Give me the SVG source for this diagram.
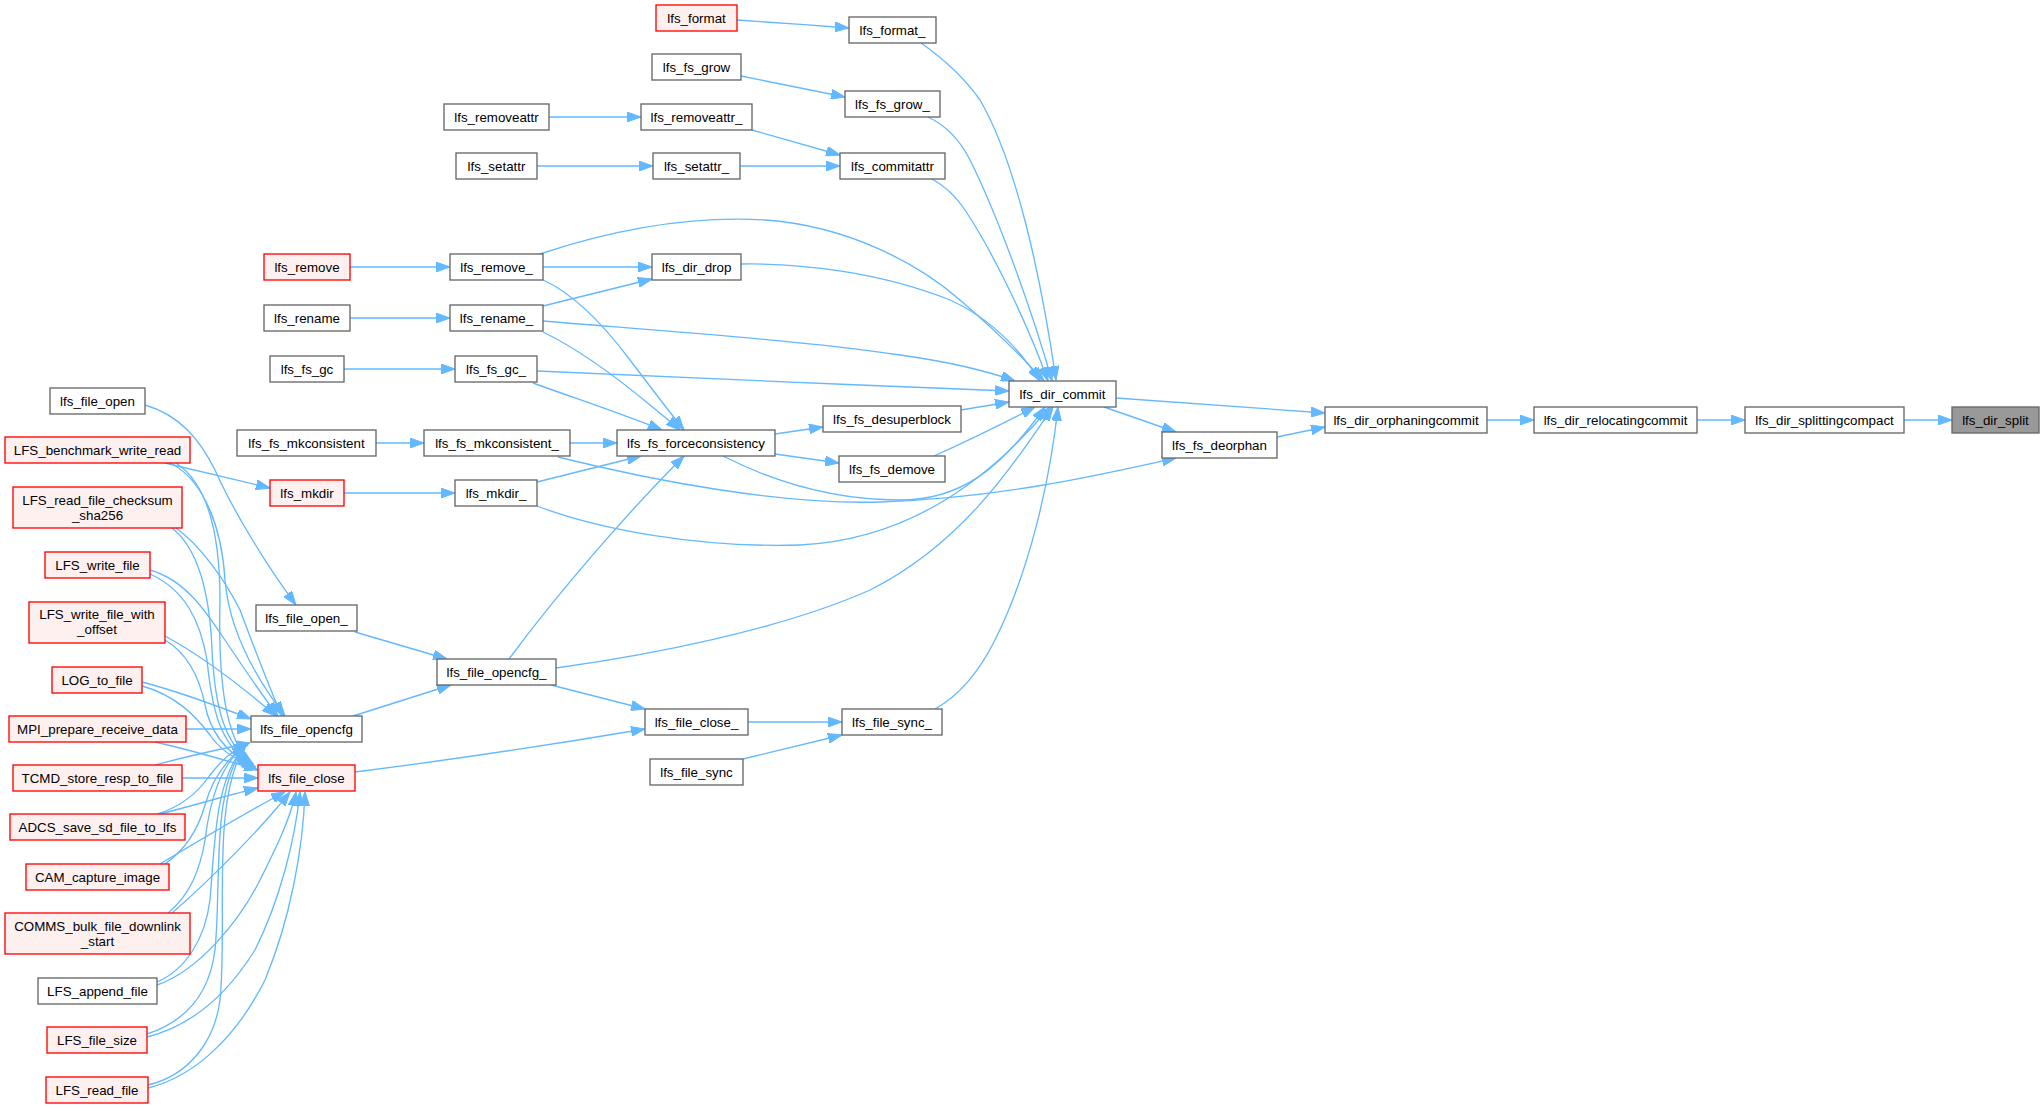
<svg xmlns="http://www.w3.org/2000/svg" width="2044" height="1108" viewBox="0 0 2044 1108">
<defs>
<marker id="ah" markerUnits="userSpaceOnUse" markerWidth="14" markerHeight="10" refX="14" refY="5" orient="auto">
<path d="M0,0 L14,5 L0,10 z" fill="#63B8FF" stroke="#63B8FF" stroke-width="1"/>
</marker>
</defs>
<style>
.n rect{fill:#ffffff;stroke:#666666;stroke-width:1.33}
.r rect{fill:#FFF0F0;stroke:#FF0000;stroke-width:1.33}
.g rect{fill:#999999;stroke:#666666;stroke-width:1.33}
text{font-family:"Liberation Sans",Arial,Helvetica,sans-serif;font-size:13.33px;fill:#000;text-anchor:middle}
#edges path{fill:none;stroke:#63B8FF;stroke-width:1.33;marker-end:url(#ah)}
</style>
<rect x="0" y="0" width="2044" height="1108" fill="#ffffff"/>
<g id="edges">
<path d="M737,20 C780,23 810,25 849,28"/>
<path d="M921,43 C948,62 966,80 980,100 C1015,160 1040,270 1056,380"/>
<path d="M741,76 L845,97"/>
<path d="M928,117 C945,125 960,140 970,160 C1000,220 1035,320 1052,381"/>
<path d="M549,117 L641,117"/>
<path d="M752,130 L840,155"/>
<path d="M537,166 L653,166"/>
<path d="M740,166 L840,166"/>
<path d="M932,179 C945,186 955,195 965,210 C995,255 1030,330 1048,381"/>
<path d="M350,267 L450,267"/>
<path d="M543,267 L652,267"/>
<path d="M540,254 C600,234 680,215 765,220 C850,226 920,265 960,300 C995,330 1025,360 1044,381"/>
<path d="M543,280 C570,292 600,320 630,360 C655,393 672,415 684,430"/>
<path d="M350,318 L450,318"/>
<path d="M543,306 L652,279"/>
<path d="M543,321 C650,330 800,340 900,355 C950,362 990,372 1015,381"/>
<path d="M543,332 C580,350 620,380 650,405 C665,417 673,424 680,430"/>
<path d="M741,264 C800,263 880,272 950,300 C990,318 1020,350 1040,381"/>
<path d="M344,369 L455,369"/>
<path d="M537,371 C650,376 850,385 1009,391"/>
<path d="M533,383 C580,400 625,415 662,430"/>
<path d="M376,443 L424,443"/>
<path d="M570,443 L617,443"/>
<path d="M558,457 C650,480 780,505 880,502 C1000,498 1100,475 1176,458"/>
<path d="M344,493 L455,493"/>
<path d="M537,482 L641,456"/>
<path d="M537,506 C600,530 700,548 800,545 C900,540 980,490 1050,407"/>
<path d="M775,434 L823,427"/>
<path d="M775,454 L839,463"/>
<path d="M723,456 C770,480 830,500 900,500 C960,500 1000,470 1045,407"/>
<path d="M961,410 L1009,402"/>
<path d="M934,456 C965,442 1000,425 1035,407"/>
<path d="M1116,398 C1200,404 1270,409 1325,413"/>
<path d="M1104,407 L1176,432"/>
<path d="M1277,437 L1325,427"/>
<path d="M1487,420 L1534,420"/>
<path d="M1697,420 L1745,420"/>
<path d="M1904,420 L1952,420"/>
<path d="M509,659 C560,590 630,510 684,456"/>
<path d="M556,668 C650,655 780,630 870,590 C960,545 1010,470 1053,407"/>
<path d="M551,685 L645,709"/>
<path d="M748,722 L842,722"/>
<path d="M935,709 C960,695 980,670 995,640 C1030,570 1050,480 1058,407"/>
<path d="M743,759 L842,735"/>
<path d="M355,772 C450,760 550,745 645,729"/>
<path d="M145,405 C180,415 200,440 215,470 C235,515 270,570 296,605"/>
<path d="M355,632 L447,659"/>
<path d="M353,716 L451,685"/>
<path d="M165,463 L270,488"/>
<path d="M170,463 C205,480 222,530 225,580 C230,640 265,690 285,716"/>
<path d="M176,463 C210,485 220,540 220,600 C218,680 225,740 252,765"/>
<path d="M176,528 C200,545 225,580 240,610 C255,650 270,690 282,716"/>
<path d="M172,528 C200,550 210,600 212,650 C215,710 225,745 254,765"/>
<path d="M150,570 C185,580 205,610 225,640 C245,670 262,695 278,716"/>
<path d="M150,574 C185,590 200,620 207,660 C212,710 220,745 252,765"/>
<path d="M165,636 C200,655 240,685 276,716"/>
<path d="M165,640 C190,655 200,680 205,705 C210,730 225,752 252,766"/>
<path d="M142,682 C180,692 215,705 251,719"/>
<path d="M142,686 C175,695 195,715 210,735 C220,750 235,760 256,767"/>
<path d="M186,729 L251,729"/>
<path d="M155,742 C190,750 225,760 258,770"/>
<path d="M155,765 C185,757 215,750 250,743"/>
<path d="M182,778 L258,778"/>
<path d="M158,814 C185,805 200,790 210,775 C222,760 232,750 248,745"/>
<path d="M160,814 C195,805 225,796 258,788"/>
<path d="M165,864 C185,850 198,830 205,805 C212,780 225,760 246,745"/>
<path d="M160,864 C200,840 250,810 285,792"/>
<path d="M168,913 C190,895 200,870 205,840 C210,800 220,765 246,744"/>
<path d="M172,913 C210,880 260,830 290,792"/>
<path d="M157,982 C185,970 205,940 210,900 C215,840 215,780 245,745"/>
<path d="M157,985 C200,970 240,920 260,880 C275,850 290,820 296,792"/>
<path d="M147,1034 C190,1020 210,990 215,950 C222,880 210,790 246,744"/>
<path d="M147,1037 C195,1025 230,990 255,950 C280,900 295,840 300,792"/>
<path d="M148,1085 C190,1075 215,1040 220,1000 C228,920 210,800 246,744"/>
<path d="M148,1088 C200,1075 240,1030 265,980 C290,920 303,850 305,792"/>
</g>
<g id="lfs_format" class="r"><rect x="656" y="5" width="81" height="26"/><text x="696.5" y="22.7">lfs_format</text></g>
<g id="lfs_format_" class="n"><rect x="849" y="17" width="87" height="26"/><text x="892.5" y="34.7">lfs_format_</text></g>
<g id="lfs_fs_grow" class="n"><rect x="652" y="54" width="89" height="26"/><text x="696.5" y="71.7">lfs_fs_grow</text></g>
<g id="lfs_fs_grow_" class="n"><rect x="845" y="91" width="95" height="26"/><text x="892.5" y="108.7">lfs_fs_grow_</text></g>
<g id="lfs_removeattr" class="n"><rect x="444" y="104" width="105" height="26"/><text x="496.5" y="121.7">lfs_removeattr</text></g>
<g id="lfs_removeattr_" class="n"><rect x="641" y="104" width="111" height="26"/><text x="696.5" y="121.7">lfs_removeattr_</text></g>
<g id="lfs_setattr" class="n"><rect x="456" y="153" width="81" height="26"/><text x="496.5" y="170.7">lfs_setattr</text></g>
<g id="lfs_setattr_" class="n"><rect x="653" y="153" width="87" height="26"/><text x="696.5" y="170.7">lfs_setattr_</text></g>
<g id="lfs_commitattr" class="n"><rect x="840" y="153" width="105" height="26"/><text x="892.5" y="170.7">lfs_commitattr</text></g>
<g id="lfs_remove" class="r"><rect x="264" y="254" width="86" height="26"/><text x="307" y="271.7">lfs_remove</text></g>
<g id="lfs_remove_" class="n"><rect x="450" y="254" width="93" height="26"/><text x="496.5" y="271.7">lfs_remove_</text></g>
<g id="lfs_dir_drop" class="n"><rect x="652" y="254" width="89" height="26"/><text x="696.5" y="271.7">lfs_dir_drop</text></g>
<g id="lfs_rename" class="n"><rect x="264" y="305" width="86" height="26"/><text x="307" y="322.7">lfs_rename</text></g>
<g id="lfs_rename_" class="n"><rect x="450" y="305" width="93" height="26"/><text x="496.5" y="322.7">lfs_rename_</text></g>
<g id="lfs_fs_gc" class="n"><rect x="270" y="356" width="74" height="26"/><text x="307" y="373.7">lfs_fs_gc</text></g>
<g id="lfs_fs_gc_" class="n"><rect x="455" y="356" width="82" height="26"/><text x="496" y="373.7">lfs_fs_gc_</text></g>
<g id="lfs_dir_commit" class="n"><rect x="1009" y="381" width="107" height="26"/><text x="1062.5" y="398.7">lfs_dir_commit</text></g>
<g id="lfs_file_open" class="n"><rect x="50" y="388" width="95" height="26"/><text x="97.5" y="405.7">lfs_file_open</text></g>
<g id="lfs_fs_desuperblock" class="n"><rect x="823" y="406" width="138" height="26"/><text x="892" y="423.7">lfs_fs_desuperblock</text></g>
<g id="lfs_fs_mkconsistent" class="n"><rect x="237" y="430" width="139" height="26"/><text x="306.5" y="447.7">lfs_fs_mkconsistent</text></g>
<g id="lfs_fs_mkconsistent_" class="n"><rect x="424" y="430" width="146" height="26"/><text x="497" y="447.7">lfs_fs_mkconsistent_</text></g>
<g id="lfs_fs_forceconsistency" class="n"><rect x="617" y="430" width="158" height="26"/><text x="696" y="447.7">lfs_fs_forceconsistency</text></g>
<g id="lfs_fs_deorphan" class="n"><rect x="1162" y="432" width="115" height="26"/><text x="1219.5" y="449.7">lfs_fs_deorphan</text></g>
<g id="lfs_dir_orphaningcommit" class="n"><rect x="1325" y="407" width="162" height="26"/><text x="1406" y="424.7">lfs_dir_orphaningcommit</text></g>
<g id="lfs_dir_relocatingcommit" class="n"><rect x="1534" y="407" width="163" height="26"/><text x="1615.5" y="424.7">lfs_dir_relocatingcommit</text></g>
<g id="lfs_dir_splittingcompact" class="n"><rect x="1745" y="407" width="159" height="26"/><text x="1824.5" y="424.7">lfs_dir_splittingcompact</text></g>
<g id="lfs_dir_split" class="g"><rect x="1952" y="407" width="87" height="26"/><text x="1995.5" y="424.7">lfs_dir_split</text></g>
<g id="LFS_benchmark_write_read" class="r"><rect x="5" y="437" width="185" height="26"/><text x="97.5" y="454.7">LFS_benchmark_write_read</text></g>
<g id="lfs_fs_demove" class="n"><rect x="839" y="456" width="106" height="26"/><text x="892" y="473.7">lfs_fs_demove</text></g>
<g id="lfs_mkdir" class="r"><rect x="270" y="480" width="74" height="26"/><text x="307" y="497.7">lfs_mkdir</text></g>
<g id="lfs_mkdir_" class="n"><rect x="455" y="480" width="82" height="26"/><text x="496" y="497.7">lfs_mkdir_</text></g>
<g id="LFS_read_file_checksum_sha256" class="r"><rect x="13" y="487" width="169" height="41"/><text x="97.5" y="504.7">LFS_read_file_checksum</text><text x="97.5" y="519.7">_sha256</text></g>
<g id="LFS_write_file" class="r"><rect x="45" y="552" width="105" height="26"/><text x="97.5" y="569.7">LFS_write_file</text></g>
<g id="LFS_write_file_with_offset" class="r"><rect x="29" y="602" width="136" height="41"/><text x="97" y="619.2">LFS_write_file_with</text><text x="97" y="634.2">_offset</text></g>
<g id="lfs_file_open_" class="n"><rect x="256" y="605" width="101" height="26"/><text x="306.5" y="622.7">lfs_file_open_</text></g>
<g id="lfs_file_opencfg_" class="n"><rect x="437" y="659" width="119" height="26"/><text x="496.5" y="676.7">lfs_file_opencfg_</text></g>
<g id="LOG_to_file" class="r"><rect x="52" y="667" width="90" height="26"/><text x="97" y="684.7">LOG_to_file</text></g>
<g id="lfs_file_close_" class="n"><rect x="645" y="709" width="103" height="26"/><text x="696.5" y="726.7">lfs_file_close_</text></g>
<g id="lfs_file_sync_" class="n"><rect x="842" y="709" width="100" height="26"/><text x="892" y="726.7">lfs_file_sync_</text></g>
<g id="MPI_prepare_receive_data" class="r"><rect x="9" y="716" width="177" height="26"/><text x="97.5" y="733.7">MPI_prepare_receive_data</text></g>
<g id="lfs_file_opencfg" class="n"><rect x="251" y="716" width="111" height="26"/><text x="306.5" y="733.7">lfs_file_opencfg</text></g>
<g id="lfs_file_sync" class="n"><rect x="650" y="759" width="93" height="26"/><text x="696.5" y="776.7">lfs_file_sync</text></g>
<g id="TCMD_store_resp_to_file" class="r"><rect x="13" y="765" width="169" height="26"/><text x="97.5" y="782.7">TCMD_store_resp_to_file</text></g>
<g id="lfs_file_close" class="r"><rect x="258" y="765" width="97" height="26"/><text x="306.5" y="782.7">lfs_file_close</text></g>
<g id="ADCS_save_sd_file_to_lfs" class="r"><rect x="10" y="814" width="175" height="26"/><text x="97.5" y="831.7">ADCS_save_sd_file_to_lfs</text></g>
<g id="CAM_capture_image" class="r"><rect x="26" y="864" width="143" height="26"/><text x="97.5" y="881.7">CAM_capture_image</text></g>
<g id="COMMS_bulk_file_downlink_start" class="r"><rect x="5" y="913" width="185" height="41"/><text x="97.5" y="930.7">COMMS_bulk_file_downlink</text><text x="97.5" y="945.7">_start</text></g>
<g id="LFS_append_file" class="n"><rect x="38" y="978" width="119" height="26"/><text x="97.5" y="995.7">LFS_append_file</text></g>
<g id="LFS_file_size" class="r"><rect x="47" y="1027" width="100" height="26"/><text x="97" y="1044.7">LFS_file_size</text></g>
<g id="LFS_read_file" class="r"><rect x="46" y="1077" width="102" height="26"/><text x="97" y="1094.7">LFS_read_file</text></g>
</svg>
